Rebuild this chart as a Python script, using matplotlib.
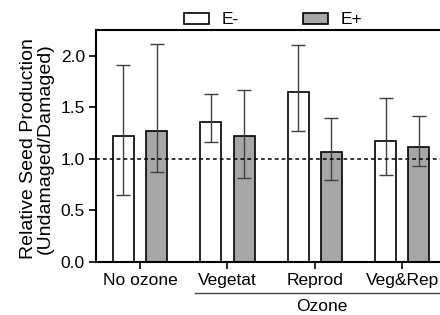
import matplotlib
matplotlib.use("Agg")
import matplotlib.pyplot as plt
import matplotlib.transforms as mtransforms
from matplotlib.patches import Patch
import numpy as np

categories = ["No ozone", "Vegetat", "Reprod", "Veg&Rep"]
series_names = ["E-", "E+"]
e_minus = [1.22, 1.36, 1.65, 1.17]
e_minus_hi = [1.91, 1.63, 2.10, 1.59]
e_minus_lo = [0.65, 1.16, 1.27, 0.84]
e_plus = [1.27, 1.22, 1.07, 1.12]
e_plus_hi = [2.11, 1.67, 1.40, 1.42]
e_plus_lo = [0.87, 0.81, 0.80, 0.93]
yticks = [0.0, 0.5, 1.0, 1.5, 2.0]

plt.rcParams['font.family'] = ['Liberation Sans', 'DejaVu Sans']
fs = 12.5

fig = plt.figure(figsize=(4.4, 3.15), dpi=100)
ax = fig.add_axes([96/440, 53/315, 350/440, 232/315])

x = np.arange(len(categories))
w = 0.24
off = 0.19
gray = "#a6a6a8"
ecol = "#404040"

def draw(xs, vals, hi, lo, color):
    ax.bar(xs, vals, width=w, color=color, edgecolor="black", linewidth=1.2, zorder=2)
    vals = np.array(vals)
    yerr = np.vstack([vals - np.array(lo), np.array(hi) - vals])
    ax.errorbar(xs, vals, yerr=yerr, fmt="none", ecolor=ecol, elinewidth=1.0,
                capsize=5, capthick=1.0, zorder=3)

draw(x - off, e_minus, e_minus_hi, e_minus_lo, "white")
draw(x + off, e_plus, e_plus_hi, e_plus_lo, gray)

ax.axhline(1.0, color="black", linestyle=(0, (2.5, 2)), linewidth=1.1, zorder=4)

ax.set_xlim(-0.503, 3.5)
ax.set_ylim(0, 2.25)
ax.set_yticks(yticks)
ax.set_yticklabels([f"{t:.1f}" for t in yticks], fontsize=fs)
ax.set_xticks(x)
ax.set_xticklabels(categories, fontsize=fs)
ax.tick_params(axis="both", direction="out", length=5, width=1.2, color="black")
ax.tick_params(axis="x", pad=3)
ax.tick_params(axis="y", pad=3)
for s in ax.spines.values():
    s.set_linewidth(1.5)

# Ozone bracket
trans = mtransforms.blended_transform_factory(ax.transData, ax.transAxes)
ax.plot([0.629, 3.53], [-0.132, -0.132], transform=trans, color="#444444",
        linewidth=1.0, clip_on=False)
ax.text(2.08, -0.193, "Ozone", transform=trans, ha="center", va="center", fontsize=fs)

fig.text(37/440, 0.527, "Relative Seed Production\n(Undamaged/Damaged)", rotation=90,
         ha="center", va="center", multialignment="center", fontsize=14, linespacing=1.0)

handles = [Patch(facecolor="white", edgecolor="black", linewidth=1.2),
           Patch(facecolor=gray, edgecolor="black", linewidth=1.2)]
fig.legend(handles, series_names, loc="center", bbox_to_anchor=(0.621, 0.937), ncol=2,
           frameon=False, fontsize=fs, handlelength=1.44, handleheight=0.62,
           handletextpad=0.73, columnspacing=3.7, borderpad=0)

fig.savefig("out.png", dpi=100)
